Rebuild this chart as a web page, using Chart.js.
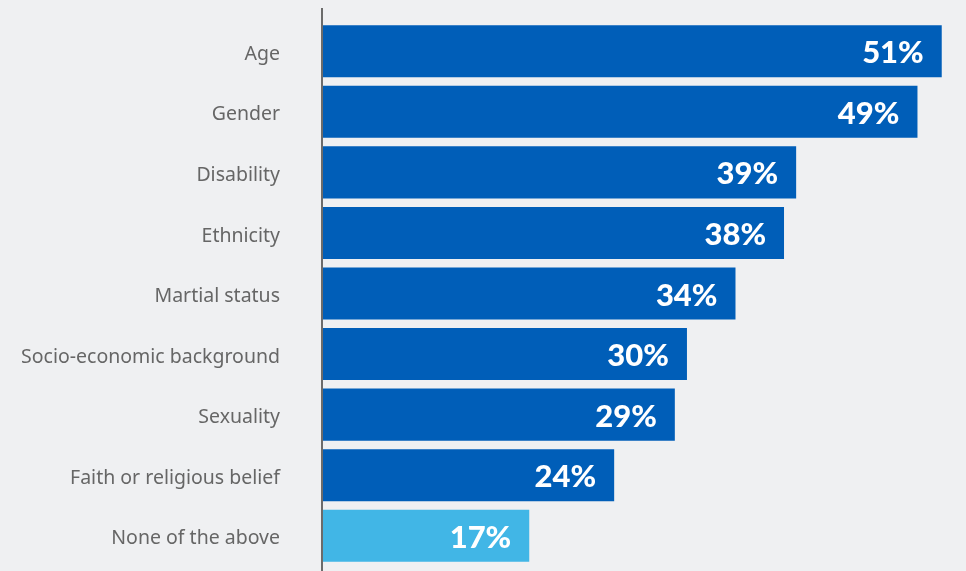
<!DOCTYPE html>
<html>
<head>
<meta charset="utf-8">
<script src="https://cdn.jsdelivr.net/npm/chart.js@4"></script>
<style>
  html, body { margin: 0; padding: 0; background: #eff0f2; }
  #wrap { width: 966px; height: 571px; position: relative; }
</style>
</head>
<body>
<div id="wrap"><canvas id="chart"></canvas></div>
<script>
// Chart data
const categories = [
    "Age",
    "Gender",
    "Disability",
    "Ethnicity",
    "Martial status",
    "Socio-economic background",
    "Sexuality",
    "Faith or religious belief",
    "None of the above"
];
const values = [51, 49, 39, 38, 34, 30, 29, 24, 17];
const barColors = [
    "#005eb8", "#005eb8", "#005eb8", "#005eb8", "#005eb8",
    "#005eb8", "#005eb8", "#005eb8", "#41b6e6"
];

// Draws the vertical axis line (runs above and below the bars).
const axisLine = {
    id: "axisLine",
    afterDatasetsDraw (chart) {
        const ctx = chart.ctx;
        const x = chart.chartArea.left - 1;
        ctx.save();
        ctx.strokeStyle = "#6b6b6b";
        ctx.lineWidth = 2;
        ctx.beginPath();
        ctx.moveTo(x, 8);
        ctx.lineTo(x, chart.height);
        ctx.stroke();
        ctx.restore();
    }
};

// White value labels at the inner end of each bar.
const valueLabels = {
    id: "valueLabels",
    afterDatasetsDraw (chart) {
        const ctx = chart.ctx;
        const meta = chart.getDatasetMeta(0);
        ctx.save();
        ctx.fillStyle = "#ffffff";
        ctx.font = "900 31px Lato, 'Open Sans', sans-serif";
        ctx.textAlign = "right";
        ctx.textBaseline = "middle";
        meta.data.forEach((bar, i) => {
            ctx.fillText(values[i] + "%", bar.x - 18, bar.y + 2);
        });
        ctx.restore();
    }
};

new Chart(document.getElementById("chart"), {
    type: "bar",
    data: {
        labels: categories,
        datasets: [{
            data: values,
            backgroundColor: barColors,
            borderWidth: 0,
            categoryPercentage: 0.86,
            barPercentage: 1.0
        }]
    },
    options: {
        indexAxis: "y",
        responsive: true,
        maintainAspectRatio: false,
        animation: false,
        layout: {
            padding: { top: 21, bottom: 5, left: 0, right: 0 }
        },
        plugins: {
            legend: { display: false },
            tooltip: { enabled: false }
        },
        scales: {
            x: {
                display: false,
                min: 0,
                max: 53
            },
            y: {
                grid: { display: false, drawTicks: false },
                border: { display: false },
                ticks: {
                    color: "#666666",
                    padding: 43,
                    labelOffset: 3,
                    font: { family: "'Noto Sans', sans-serif", size: 19.5 }
                },
                afterFit (scale) {
                    // fixed axis width, and no extra label padding above/below
                    scale.width = 323;
                    scale.paddingTop = 0;
                    scale.paddingBottom = 0;
                }
            }
        }
    },
    plugins: [axisLine, valueLabels]
});
</script>
</body>
</html>
